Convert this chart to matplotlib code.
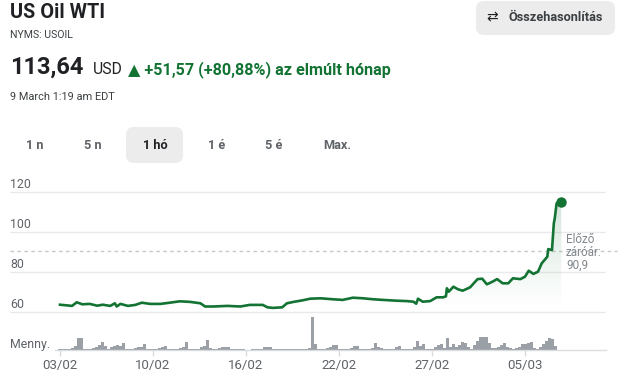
import numpy as np
import matplotlib
matplotlib.use("Agg")
import matplotlib.pyplot as plt
from matplotlib.patches import FancyBboxPatch
from matplotlib.transforms import IdentityTransform, blended_transform_factory

plt.rcParams['font.family'] = ['Roboto', 'DejaVu Sans']

# ---------------- data ----------------
title = "US Oil WTI"
ticker = "NYMS: USOIL"
last_price = "113,64"
currency = "USD"
change_text = "▲ +51,57 (+80,88%) az elmúlt hónap"
timestamp = "9 March 1:19 am EDT"
ranges = ["1 n", "5 n", "1 hó", "1 é", "5 é", "Max."]
active_range = "1 hó"
compare_icon = "⇄"
compare_label = "Összehasonlítás"
prev_close = 90.9
prev_close_lines = ["Előző", "záróár:", "90,9"]
volume_label = "Menny."
y_ticks = [60, 80, 100, 120]
x_tick_pos = [0, 1, 2, 3, 4, 5]
x_tick_labels = ["03/02", "10/02", "16/02", "22/02", "27/02", "05/03"]

price_t = [0.00, 0.13, 0.18, 0.24, 0.32, 0.40, 0.46, 0.54, 0.59, 0.61, 0.65, 0.73,
           0.81, 0.88, 0.97, 1.08, 1.18, 1.29, 1.40, 1.51, 1.56, 1.65, 1.80, 1.94,
           2.04, 2.18, 2.23, 2.29, 2.39, 2.44, 2.51, 2.61, 2.69, 2.80, 2.94, 3.04,
           3.15, 3.26, 3.37, 3.47, 3.62, 3.73, 3.80, 3.83, 3.85, 3.90, 3.98, 4.05,
           4.12, 4.15, 4.16, 4.18, 4.23, 4.28, 4.33, 4.41, 4.49, 4.54, 4.59, 4.65,
           4.70, 4.76, 4.82, 4.87, 4.95, 5.00, 5.04, 5.09, 5.14, 5.18, 5.24, 5.25,
           5.29, 5.31, 5.32, 5.34, 5.39]
price = [63.8, 63.2, 65.0, 64.0, 64.2, 63.3, 63.8, 63.2, 64.5, 62.9, 64.2, 63.2,
         63.7, 64.8, 64.2, 64.2, 64.8, 65.5, 65.2, 64.5, 62.9, 62.9, 63.2, 62.9,
         63.7, 63.7, 62.5, 62.2, 62.5, 64.5, 65.2, 66.0, 66.8, 67.0, 66.5, 66.2,
         67.3, 67.0, 66.5, 66.2, 65.8, 65.6, 65.3, 64.3, 66.8, 65.3, 65.6, 67.5,
         67.5, 68.0, 72.0, 70.3, 72.8, 71.5, 70.8, 72.5, 76.6, 76.8, 74.0, 75.3,
         76.6, 74.5, 74.5, 77.0, 76.6, 77.8, 80.8, 79.2, 80.3, 84.5, 87.8, 91.6,
         91.1, 104.5, 107.0, 114.5, 115.0]

volume = [1, 1, 1, 1.5, 2, 4, 12, 12, 1.5, 1, 1, 2, 3, 5, 8, 4, 1.5, 3, 4, 5, 4, 7.5,
          1.5, 1, 1, 2.5, 3, 3.5, 6, 1.5, 1, 1, 1, 2.5, 3.5, 4.5, 1.5, 1, 1, 1, 2.5, 3,
          8, 1.5, 1, 1, 1, 3, 4, 10, 2, 1, 1, 2, 3, 3, 3, 1.5, 1, 1, 1, 1, 0, 0.5,
          1, 1, 1, 1.5, 3, 3.5, 3, 1.5, 1, 1, 1, 1, 1.5, 1.5, 1.5, 1, 1, 1, 1, 2,
          33, 6, 1.5, 1, 1, 2.5, 3, 5, 5.5, 1.5, 1, 1, 1, 2.5, 4, 4.5, 1.5, 1, 1, 1,
          2.5, 7, 3, 2.5, 1.5, 1, 1, 1.5, 3, 4, 1.5, 1, 1, 1.5, 3, 9, 4, 6, 1, 1, 1,
          3, 5, 6, 2, 12, 3, 6.5, 3, 5, 8, 7, 3, 1, 5, 9, 13, 13, 13, 7, 2, 2, 3, 5,
          7.5, 3, 2, 1.5, 2, 3.5, 6, 6.5, 7, 8, 2, 1.5, 3, 6, 9, 12.5, 11, 4]
volume_step = 0.03226

# ---------------- styles ----------------
W, H = 622, 374
GREEN = "#137333"
GRAY_TXT = "#5f6368"
GRID = "#e8eaed"

fig = plt.figure(figsize=(W / 100, H / 100), dpi=100)
fig.patch.set_facecolor("white")


def ftxt(x, y, s, **kw):
    return fig.text(x / W, 1 - y / H, s, **kw)


def fbox(x0, y0, x1, y1, r, color):
    p = FancyBboxPatch((x0, H - y1), x1 - x0, y1 - y0,
                       boxstyle=f"round,pad=0,rounding_size={r}",
                       transform=IdentityTransform(), facecolor=color,
                       edgecolor="none", zorder=0)
    fig.add_artist(p)


# header
ftxt(10, 18.5, title, fontsize=14.3, fontweight="bold", color="#202124", va="baseline")
ftxt(10, 38.3, ticker, fontsize=7.6, color="#3c4043", va="baseline")
ftxt(10, 74, last_price, fontsize=17, fontweight="bold", color="#202124", va="baseline")
ftxt(93, 74, currency, fontsize=11.3, color="#202124", va="baseline")
ftxt(128, 74, change_text, fontsize=11.6, fontweight="bold", color=GREEN, va="baseline")
ftxt(10, 100, timestamp, fontsize=7.9, color="#3c4043", va="baseline")

# range tabs
tab_x = [35, 93, 155, 216.5, 274, 337]
fbox(126, 127, 183, 163, 8, "#ececec")
for x, lab in zip(tab_x, ranges):
    active = lab == active_range
    ftxt(x, 149, lab, fontsize=9.2, fontweight="bold",
         color="#202124" if active else GRAY_TXT, ha="center", va="baseline")

# compare button
fbox(476, 1, 615, 35, 8, "#ececec")
ftxt(492, 21, compare_icon, fontsize=10, color="#202124", ha="center", va="baseline",
     family=["DejaVu Sans"])
ftxt(508, 20.7, compare_label, fontsize=9.2, fontweight="bold", color="#3c4043", va="baseline")

# ---------------- chart axes ----------------
x_left_px, x_right_px = 10, 606
t_per_px = 1 / 93.0
t_left = (x_left_px - 60) * t_per_px
t_right = (x_right_px - 60) * t_per_px

ax_top_px, ax_bot_px = 175, 350
ax = fig.add_axes([x_left_px / W, 1 - ax_bot_px / H, (x_right_px - x_left_px) / W,
                   (ax_bot_px - ax_top_px) / H])
ax.set_xlim(t_left, t_right)
v_top = 60 + (312.3 - ax_top_px) / 2
v_bot = 60 + (312.3 - ax_bot_px) / 2
ax.set_ylim(v_bot, v_top)
ax.patch.set_alpha(0)
for s in ax.spines.values():
    s.set_visible(False)
ax.set_xticks([])
ax.set_yticks([])

# volume axes
vol_top_px = 312
axv = fig.add_axes([x_left_px / W, 1 - ax_bot_px / H, (x_right_px - x_left_px) / W,
                    (ax_bot_px - vol_top_px) / H], zorder=-1)
axv.set_xlim(t_left, t_right)
axv.set_ylim(0, ax_bot_px - vol_top_px)
axv.patch.set_alpha(0)
for s in axv.spines.values():
    s.set_visible(False)
axv.set_yticks([])
vol_t = np.arange(len(volume)) * volume_step
axv.bar(vol_t, volume, width=volume_step, color="#9aa0a6", linewidth=0, align="center")
axv.plot([(55 - 60) * t_per_px, t_right], [0, 0], color="#dadce0", lw=1, clip_on=False)
axv.set_xticks(x_tick_pos, labels=x_tick_labels)
axv.tick_params(axis="x", length=4, width=1, color="#dadce0", pad=2.5,
                labelsize=9.5, labelcolor=GRAY_TXT)
axv.text(0, 0.06, volume_label, transform=axv.transAxes, fontsize=8.9, color=GRAY_TXT,
         va="baseline", ha="left")

# gridlines + labels
ytr = blended_transform_factory(ax.transAxes, ax.transData)
for v in y_ticks:
    ax.axhline(v, color=GRID, lw=1, zorder=1)
    ax.text(0, v + 1.9, str(v), transform=ytr, fontsize=8.9, color=GRAY_TXT,
            va="baseline", ha="left")

# previous close dashed line
ax.plot([t_left, (617 - 60) * t_per_px], [prev_close, prev_close], color="#c4c7c5",
        lw=1, ls=(0, (2.5, 2.5)), clip_on=False, zorder=1)
lab_x = (566 - 60) * t_per_px
for i, line in enumerate(prev_close_lines):
    ax.text(lab_x, prev_close + 3.6 - i * 6.4, line, fontsize=8.4, color="#80868b",
            va="baseline", ha="left", zorder=3)

# gradient fill under the price line
pt = np.array(price_t)
pv = np.array(price)
fill_floor = 61.0
poly = ax.fill_between(pt, pv, fill_floor, color="none", lw=0)
grad_h = 200
vals = np.linspace(0, 1, grad_h)[:, None]
rgba = np.zeros((grad_h, 2, 4))
rgba[..., 0] = 0x13 / 255
rgba[..., 1] = 0x73 / 255
rgba[..., 2] = 0x33 / 255
rgba[..., 3] = (0.18 * vals ** 1.1)
img = ax.imshow(rgba, extent=[pt[0], pt[-1], fill_floor, pv.max()], origin="lower",
                aspect="auto", zorder=2, interpolation="bilinear")
path = poly.get_paths()[0]
img.set_clip_path(path, transform=ax.transData)
ax.set_xlim(t_left, t_right)
ax.set_ylim(v_bot, v_top)

# price line
ax.plot(pt, pv, color=GREEN, lw=1.9, zorder=4, solid_joinstyle="round")
ax.plot(pt[-1], pv[-1], "o", color=GREEN, markersize=6.5, zorder=5)

fig.savefig("out.png", dpi=100)
